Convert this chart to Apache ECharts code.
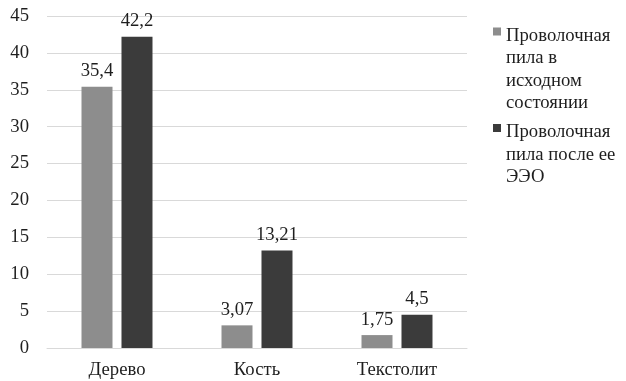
<!DOCTYPE html>
<html>
<head>
<meta charset="utf-8">
<script src="https://cdn.jsdelivr.net/npm/echarts@6/dist/echarts.min.js"></script>
<style>
  html, body { margin: 0; padding: 0; background: #ffffff; }
  #chart { width: 626px; height: 381px; }
</style>
</head>
<body>
<div id="chart"></div>
<script>
// Materials tested
const categories = ['Дерево', 'Кость', 'Текстолит'];

// Series names and the wrapped lines shown in the legend
const seriesNames = [
  'Проволочная пила в исходном состоянии',
  'Проволочная пила после ее ЭЭО'
];
const legendLines = [
  ['Проволочная', 'пила в', 'исходном', 'состоянии'],
  ['Проволочная', 'пила после ее', 'ЭЭО']
];

// Values per material
const initialValues = [35.4, 3.07, 1.75];
const afterValues = [42.2, 13.21, 4.5];

// Value axis
const yMin = 0;
const yMax = 45;
const yStep = 5;

const FONT = '"Liberation Serif", "Times New Roman", serif';
const FS = 18.7;
const TEXT = '#1e1e1e';
const GRID = '#d9d9d9';
const LINE_H = 22.5;
const MARK = 8;

const colors = ['#8d8d8d', '#3b3b3b'];

const fmt = v => String(v).replace('.', ',');

// Legend marker: a small square beside the first text line. The icon box is
// as tall as the tallest label, so the square is offset inside it.
const maxLines = Math.max(...legendLines.map(l => l.length));
const boxH = maxLines * LINE_H;
function markerPath(nLines) {
  const textTop = boxH / 2 - nLines * LINE_H / 2;
  const cy = textTop + LINE_H / 2 - 4.5;
  const y0 = cy - MARK / 2, y1 = cy + MARK / 2;
  return 'path://M0,0L' + MARK + ',0M0,' + boxH + 'L' + MARK + ',' + boxH +
    'M0,' + y0 + 'L' + MARK + ',' + y0 + 'L' + MARK + ',' + y1 + 'L0,' + y1 + 'Z';
}

const chart = echarts.init(document.getElementById('chart'), null, { renderer: 'canvas' });

function barSeries(i, values) {
  return {
    name: seriesNames[i],
    type: 'bar',
    data: values,
    barWidth: 31,
    barGap: '29%',
    itemStyle: { color: colors[i] },
    label: {
      show: true,
      position: 'top',
      distance: 6,
      color: TEXT,
      fontFamily: FONT,
      fontSize: FS,
      formatter: p => fmt(p.value)
    }
  };
}

chart.setOption({
  backgroundColor: '#ffffff',
  animation: false,
  grid: { left: 47, right: 159, top: 16, bottom: 33, containLabel: false },
  legend: {
    orient: 'vertical',
    left: 493,
    top: 24.75,
    padding: 0,
    itemWidth: MARK,
    itemHeight: boxH,
    itemGap: -4.75,
    selectedMode: false,
    textStyle: { color: TEXT, fontFamily: FONT, fontSize: FS, lineHeight: LINE_H },
    data: seriesNames.map((n, i) => ({ name: n, icon: markerPath(legendLines[i].length) })),
    formatter: name => legendLines[seriesNames.indexOf(name)].join('\n')
  },
  xAxis: {
    type: 'category',
    data: categories,
    axisLine: { show: true, lineStyle: { color: GRID, width: 1 } },
    axisTick: { show: false },
    axisLabel: { color: TEXT, fontFamily: FONT, fontSize: FS, margin: 13 },
    splitLine: { show: false }
  },
  yAxis: {
    type: 'value',
    min: yMin,
    max: yMax,
    interval: yStep,
    axisLine: { show: false },
    axisTick: { show: false },
    axisLabel: { color: TEXT, fontFamily: FONT, fontSize: FS, margin: 18 },
    splitLine: { lineStyle: { color: GRID, width: 1 } }
  },
  series: [
    barSeries(0, initialValues),
    barSeries(1, afterValues)
  ]
});
</script>
</body>
</html>
